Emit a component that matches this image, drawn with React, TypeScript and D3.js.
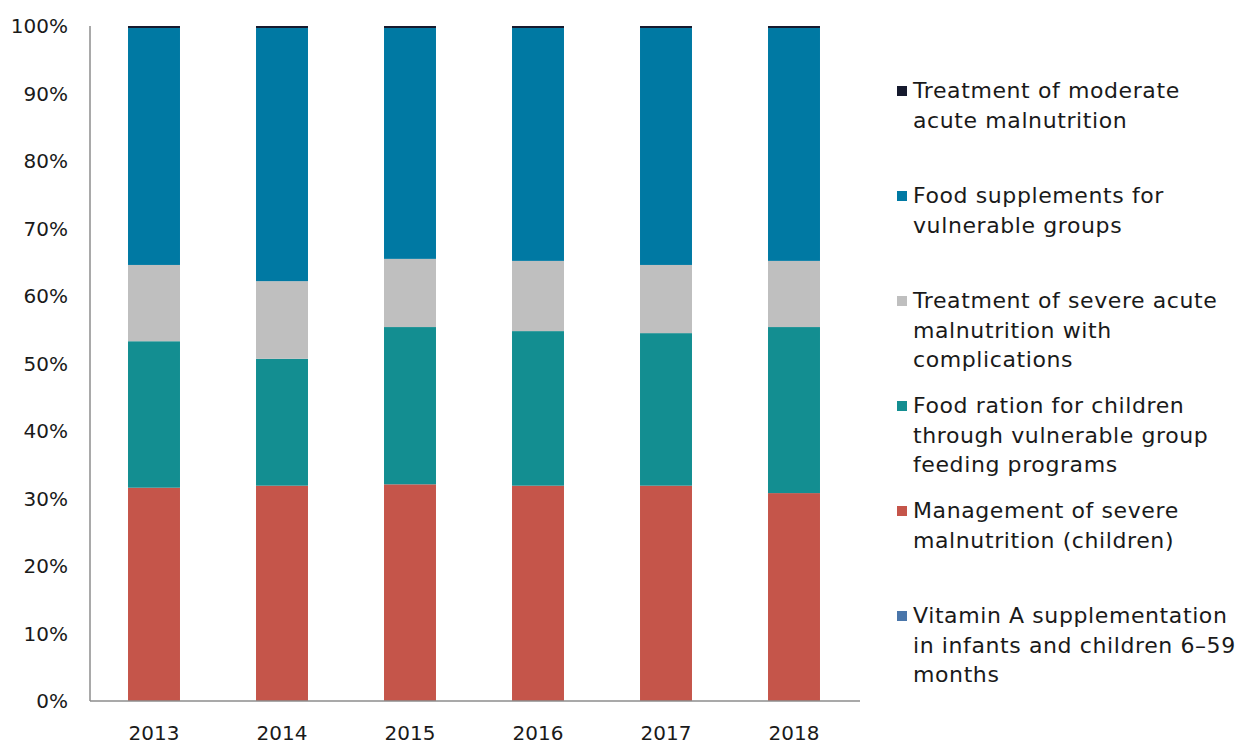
import React from "react";
import * as d3 from "d3";

const years = ["2013", "2014", "2015", "2016", "2017", "2018"];
const vitaminA = [0, 0, 0, 0, 0, 0];
const severeMgmt = [31.6, 31.9, 32.1, 31.9, 31.9, 30.8];
const foodRation = [21.7, 18.8, 23.3, 22.9, 22.6, 24.6];
const severeComplications = [11.3, 11.5, 10.1, 10.4, 10.1, 9.8];
const foodSupplements = [35.1, 37.5, 34.2, 34.5, 35.1, 34.5];
const moderateAcute = [0.3, 0.3, 0.3, 0.3, 0.3, 0.3];
const yTicks = [0, 10, 20, 30, 40, 50, 60, 70, 80, 90, 100];

const seriesDefs = [
  { key: "vitA", values: vitaminA, color: "#4A76AA", label: ["Vitamin A supplementation", "in infants and children 6\u201359", "months"] },
  { key: "sev", values: severeMgmt, color: "#C5554A", label: ["Management of severe", "malnutrition (children)"] },
  { key: "ration", values: foodRation, color: "#138E91", label: ["Food ration for children", "through vulnerable group", "feeding programs"] },
  { key: "comp", values: severeComplications, color: "#BFBFBF", label: ["Treatment of severe acute", "malnutrition with", "complications"] },
  { key: "supp", values: foodSupplements, color: "#0079A3", label: ["Food supplements for", "vulnerable groups"] },
  { key: "mod", values: moderateAcute, color: "#161A2E", label: ["Treatment of moderate", "acute malnutrition"] },
];

export default function App() {
  const W = 1236, H = 745;
  const left = 90, right = 858, top = 26, bottom = 701;
  const font = "'DejaVu Sans', sans-serif";
  const x = d3.scaleBand().domain(years).range([left, right]).paddingInner(0.594).paddingOuter(0.297);
  const y = d3.scaleLinear().domain([0, 100]).range([bottom, top]);
  const rows = years.map((yr, i) => {
    const r: any = { year: yr };
    seriesDefs.forEach((s) => (r[s.key] = s.values[i]));
    return r;
  });
  const stack = d3.stack().keys(seriesDefs.map((s) => s.key));
  const layers = stack(rows);
  const legendOrder = [...seriesDefs].reverse();
  return (
    <svg width={W} height={H} style={{ position: "absolute", left: 0, top: 0, background: "#fff" }}>
      {layers.map((layer, li) => (
        <g key={seriesDefs[li].key} fill={seriesDefs[li].color}>
          {layer.map((d, i) => (
            <rect key={i} x={x(years[i])} width={x.bandwidth()} y={y(d[1])} height={Math.max(0, y(d[0]) - y(d[1]))} />
          ))}
        </g>
      ))}
      <line x1={left} x2={left} y1={top} y2={bottom} stroke="#8C8C8C" strokeWidth={1.5} />
      <line x1={left} x2={right + 2} y1={bottom} y2={bottom} stroke="#8C8C8C" strokeWidth={1.5} />
      {yTicks.map((t) => (
        <text key={t} x={68} y={y(t)} dy="0.36em" textAnchor="end" fontFamily={font} fontSize={20} fill="#1a1a1a">
          {t}%
        </text>
      ))}
      {years.map((yr) => (
        <text key={yr} x={(x(yr) as number) + x.bandwidth() / 2} y={740} textAnchor="middle" fontFamily={font} fontSize={20} fill="#1a1a1a">
          {yr}
        </text>
      ))}
      {legendOrder.map((s, i) => {
        const base = 98 + i * 105;
        return (
          <g key={s.key}>
            <rect x={897} y={base - 12} width={10} height={10} fill={s.color} />
            {s.label.map((ln, j) => (
              <text key={j} x={913} y={base + j * 29.5} fontFamily={font} fontSize={22} letterSpacing={0.6} fill="#1a1a1a">
                {ln}
              </text>
            ))}
          </g>
        );
      })}
    </svg>
  );
}
